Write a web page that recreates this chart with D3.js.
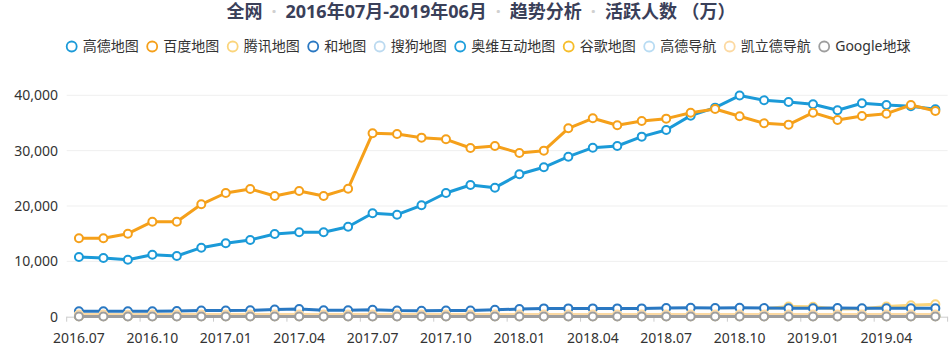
<!DOCTYPE html>
<html><head><meta charset="utf-8">
<script src="https://cdn.jsdelivr.net/npm/d3@7"></script>
<style>
body{margin:0;background:#fff}
svg{display:block}
text{font-family:"Noto Sans","Noto Sans CJK SC",sans-serif}
</style>
</head><body>
<svg id="chart" width="952" height="356"></svg>
<script>
// ---------- data ----------
const months = ["2016.07","2016.08","2016.09","2016.10","2016.11","2016.12",
  "2017.01","2017.02","2017.03","2017.04","2017.05","2017.06",
  "2017.07","2017.08","2017.09","2017.10","2017.11","2017.12",
  "2018.01","2018.02","2018.03","2018.04","2018.05","2018.06",
  "2018.07","2018.08","2018.09","2018.10","2018.11","2018.12",
  "2019.01","2019.02","2019.03","2019.04","2019.05","2019.06"];
const tickLabels = ["2016.07","2016.10","2017.01","2017.04","2017.07","2017.10",
  "2018.01","2018.04","2018.07","2018.10","2019.01","2019.04"];
const yTicks = [0, 10000, 20000, 30000, 40000];
const seriesNames = ["高德地图","百度地图","腾讯地图","和地图","搜狗地图","奥维互动地图","谷歌地图","高德导航","凯立德导航","Google地球"];

const gaodeMap = [10790,10610,10300,11200,10970,12470,13260,13860,14940,15250,15250,16260,
  18680,18430,20130,22350,23800,23310,25730,27000,28910,30540,30840,32530,
  33740,36320,37770,39950,39100,38800,38380,37300,38560,38250,38020,37480];
const baiduMap = [14170,14170,15000,17170,17170,20310,22350,23080,21810,22710,21810,23130,
  33140,33010,32350,32050,30480,30840,29580,30000,34040,35850,34580,35360,
  35780,36860,37530,36210,34950,34700,36860,35540,36270,36680,38250,37170];
const tencentMap = [null,null,null,null,null,null,null,null,null,null,null,null,
  null,null,null,null,null,null,null,null,null,null,null,null,
  null,null,null,null,1450,1850,1800,1400,1450,1850,2050,2250];
const heMap = [1000,980,980,1000,1020,1100,1120,1150,1300,1400,1150,1150,
  1250,1100,1080,1100,1100,1250,1380,1500,1500,1500,1500,1500,
  1550,1600,1580,1600,1580,1520,1520,1550,1520,1520,1520,1520];
const sogouMap = [150,150,140,150,150,160,150,150,160,150,150,140,
  140,150,150,140,140,150,150,150,160,150,150,150,
  150,160,150,150,140,150,150,140,150,150,150,150];
const oviMap = [250,250,240,250,260,260,250,260,270,260,250,250,
  250,260,250,250,260,260,250,260,260,270,260,260,
  260,270,270,260,260,250,260,260,260,270,270,260];
const googleMap = [80,80,80,80,80,90,80,80,90,80,80,80,
  80,80,80,80,80,80,80,80,90,80,80,80,
  80,80,80,80,80,80,80,80,80,80,80,80];
const gaodeNavi = [300,300,290,300,310,310,300,300,310,310,300,300,
  300,310,300,300,310,300,300,310,310,310,300,300,
  310,310,310,300,300,300,300,300,300,310,310,310];
const kailideNavi = [380,380,370,380,380,390,380,380,390,390,380,380,
  380,380,380,380,390,380,380,390,390,390,380,380,
  390,390,390,380,380,380,380,380,380,390,390,390];
const googleEarth = [30,30,30,30,30,30,30,30,30,30,30,30,
  30,30,30,30,30,30,30,30,30,30,30,30,
  30,30,30,30,30,30,30,30,30,30,30,30];

const seriesValues = [gaodeMap, baiduMap, tencentMap, heMap, sogouMap, oviMap, googleMap, gaodeNavi, kailideNavi, googleEarth];
const colors = ["#1b9ad8","#f5a01a","#fbd57c","#2a78c2","#bcdaf0","#1f9fdc","#f6bd2a","#b9dcf3","#fcd9a2","#9e9e9e"];

// ---------- layout ----------
const svg = d3.select("#chart");
const plot = {left: 66.7, right: 947.6, top: 95.3, bottom: 316.7};

const x = d3.scaleBand().domain(months).range([plot.left, plot.right]).padding(0);
const y = d3.scaleLinear().domain([0, 40000]).range([plot.bottom, plot.top]);
const cx = m => x(m) + x.bandwidth() / 2;

// gridlines
svg.append("g").selectAll("line").data(yTicks.filter(v => v > 0)).join("line")
  .attr("x1", plot.left).attr("x2", plot.right)
  .attr("y1", d => y(d)).attr("y2", d => y(d))
  .attr("stroke", "#efefef").attr("stroke-width", 1);

// y axis labels
svg.append("g").selectAll("text").data(yTicks).join("text")
  .attr("x", 58).attr("y", d => y(d)).attr("dy", "0.35em")
  .attr("text-anchor", "end").attr("font-size", 14).attr("fill", "#333")
  .text(d => d3.format(",")(d));

// x axis line
svg.append("line").attr("x1", plot.left).attr("x2", plot.right)
  .attr("y1", plot.bottom + 0.5).attr("y2", plot.bottom + 0.5)
  .attr("stroke", "#ccc").attr("stroke-width", 1);

// x ticks at band boundaries every 3 categories
const tickIdx = d3.range(0, months.length + 1, 3);
svg.append("g").selectAll("line").data(tickIdx).join("line")
  .attr("x1", i => i < months.length ? x(months[i]) : plot.right)
  .attr("x2", i => i < months.length ? x(months[i]) : plot.right)
  .attr("y1", plot.bottom).attr("y2", plot.bottom + 5)
  .attr("stroke", "#ccc");

svg.append("g").selectAll("text").data(tickLabels).join("text")
  .attr("x", d => cx(d)).attr("y", 343)
  .attr("text-anchor", "middle").attr("font-size", 14).attr("fill", "#333")
  .text(d => d);

// series
const line = d3.line().defined(d => d.v != null).x(d => cx(d.m)).y(d => y(d.v));
seriesNames.forEach((name, i) => {
  const pts = months.map((m, j) => ({m, v: seriesValues[i][j]}));
  const g = svg.append("g");
  g.append("path").datum(pts).attr("d", line)
    .attr("fill", "none").attr("stroke", colors[i]).attr("stroke-width", 3)
    .attr("stroke-linejoin", "round");
  g.selectAll("circle").data(pts.filter(d => d.v != null)).join("circle")
    .attr("cx", d => cx(d.m)).attr("cy", d => y(d.v)).attr("r", 4)
    .attr("fill", "#fff").attr("stroke", colors[i]).attr("stroke-width", 2);
});

// legend
const legend = svg.append("g");
let lx = 66.2;
seriesNames.forEach((name, i) => {
  const item = legend.append("g");
  item.append("circle").attr("cx", lx + 5.5).attr("cy", 46.5).attr("r", 5)
    .attr("fill", "#fff").attr("stroke", colors[i]).attr("stroke-width", 1.8);
  const t = item.append("text").attr("x", lx + 16.5).attr("y", 46.5).attr("dy", "0.35em")
    .attr("font-size", 14).attr("fill", "#333").text(name);
  lx += 16.5 + t.node().getComputedTextLength() + 8;
});

// title
const title = svg.append("text").attr("x", 481).attr("y", 17.5)
  .attr("text-anchor", "middle").attr("font-size", 18).attr("font-weight", "bold")
  .attr("fill", "#3a4059");
const parts = ["全网","2016年07月-2019年06月","趋势分析","活跃人数 （万）"];
parts.forEach((p, i) => {
  if (i > 0) title.append("tspan").attr("dx", 9).attr("fill", "#d0d0d0").text("·");
  title.append("tspan").attr("dx", i > 0 ? 9 : 0).text(p);
});
</script>
</body></html>
